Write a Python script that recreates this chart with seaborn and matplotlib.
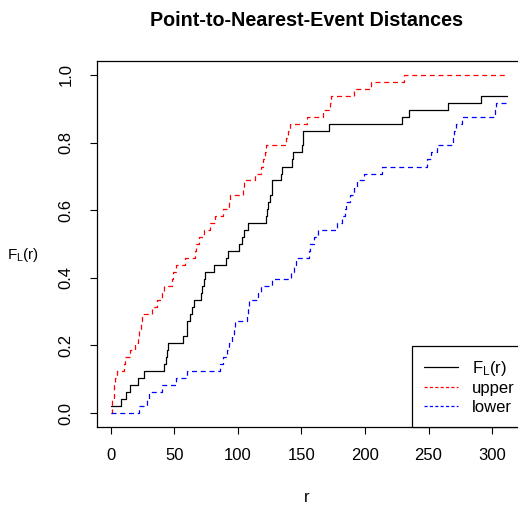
import numpy as np
import pandas as pd
import matplotlib
matplotlib.use("Agg")
import matplotlib.pyplot as plt
import seaborn as sns

# Step breakpoints (distance r) and cumulative fraction after each step
obs_r = [0, 8, 12, 15, 21, 26, 42, 43, 44, 45, 57, 60, 62, 64, 65, 71, 72, 73, 74,
         81.5, 90.5, 92, 101, 103, 105, 108, 122, 123, 124, 125, 126.5, 134, 135,
         142.5, 143, 150.5, 151, 151.5, 172, 229, 235, 265, 291, 311.6]
obs_F = [0.021, 0.042, 0.062, 0.083, 0.104, 0.125, 0.146, 0.167, 0.188, 0.208, 0.229,
         0.271, 0.292, 0.313, 0.333, 0.354, 0.375, 0.396, 0.417, 0.438, 0.458, 0.479,
         0.500, 0.521, 0.542, 0.563, 0.583, 0.604, 0.625, 0.646, 0.688, 0.708, 0.729,
         0.750, 0.771, 0.792, 0.813, 0.833, 0.854, 0.875, 0.896, 0.917, 0.938, 0.938]

upper_r = [0, 0.5, 1, 2, 2.5, 3.5, 4.5, 10.5, 11, 15, 19, 21, 22, 24, 24.5, 32, 36, 40,
           42, 48, 49, 51, 58, 66, 67, 69, 73, 78, 82, 88, 93, 94, 104, 104.5, 113, 118,
           120, 121, 122, 138, 139, 141, 154, 167, 172.5, 173, 191, 205, 231, 311.6]
upper_F = [0.0, 0.021, 0.042, 0.063, 0.083, 0.104, 0.125, 0.146, 0.167, 0.188, 0.208,
           0.229, 0.250, 0.271, 0.292, 0.313, 0.333, 0.354, 0.375, 0.396, 0.417, 0.438,
           0.458, 0.479, 0.500, 0.521, 0.542, 0.563, 0.583, 0.604, 0.625, 0.646, 0.667,
           0.688, 0.708, 0.729, 0.750, 0.771, 0.792, 0.813, 0.833, 0.854, 0.875, 0.896,
           0.917, 0.938, 0.958, 0.979, 1.0, 1.0]

lower_r = [0, 22, 28, 30, 40, 51.5, 60, 86, 88, 91, 93, 95, 96.5, 98, 107, 108, 109,
           116, 118, 126.5, 142, 144, 146, 156, 157, 160, 163, 178, 182, 184, 185, 188,
           191, 194, 199, 213, 249, 252, 257, 269, 270, 272, 276, 302, 303, 311.6]
lower_F = [0.0, 0.021, 0.042, 0.063, 0.083, 0.104, 0.125, 0.146, 0.167, 0.188, 0.208,
           0.229, 0.250, 0.271, 0.292, 0.313, 0.333, 0.354, 0.375, 0.396, 0.417, 0.438,
           0.458, 0.479, 0.500, 0.521, 0.542, 0.563, 0.583, 0.604, 0.625, 0.646, 0.667,
           0.688, 0.708, 0.729, 0.750, 0.771, 0.792, 0.813, 0.833, 0.854, 0.875, 0.896,
           0.917, 0.917]

x_ticks = [0, 50, 100, 150, 200, 250, 300]
y_ticks = [0.0, 0.2, 0.4, 0.6, 0.8, 1.0]
y_ticklabels = ["0.0", "0.2", "0.4", "0.6", "0.8", "1.0"]

sns.set_theme(style="white")
plt.rcParams["font.family"] = ["Liberation Sans", "DejaVu Sans"]
plt.rcParams["mathtext.default"] = "regular"
plt.rcParams["text.color"] = "black"

fig = plt.figure(figsize=(5.18, 5.11), dpi=100)
# plot region runs slightly past the right edge of the canvas
ax = fig.add_axes([97 / 518, 1 - 427 / 511, 425 / 518, 366 / 511])

obs = pd.DataFrame({"r": obs_r, "F": obs_F})
up = pd.DataFrame({"r": upper_r, "F": upper_F})
lo = pd.DataFrame({"r": lower_r, "F": lower_F})

sns.lineplot(data=obs, x="r", y="F", ax=ax, color="black", lw=0.9,
             drawstyle="steps-post", estimator=None, sort=False,
             label=r"$F_L(r)$")
sns.lineplot(data=up, x="r", y="F", ax=ax, color="#ff0000", lw=0.9,
             drawstyle="steps-post", estimator=None, sort=False,
             label="upper", dashes=False)
sns.lineplot(data=lo, x="r", y="F", ax=ax, color="#0000ff", lw=0.9,
             drawstyle="steps-post", estimator=None, sort=False,
             label="lower", dashes=False)
for ln in ax.get_lines()[1:3]:
    ln.set_linestyle((0, (4, 3)))

ax.set_xlim(-11, 323.6)
ax.set_ylim(-0.041, 1.041)
ax.set_xticks(x_ticks)
ax.set_yticks(y_ticks)
ax.set_yticklabels(y_ticklabels)
for lab in ax.get_yticklabels():
    lab.set_rotation(90)
    lab.set_va("center")

for side in ["left", "right", "top", "bottom"]:
    ax.spines[side].set_visible(True)
    ax.spines[side].set_color("black")
    ax.spines[side].set_linewidth(0.9)

ax.tick_params(axis="both", which="major", direction="out", length=5,
               width=0.8, color="black", labelsize=12, labelcolor="black",
               left=True, bottom=True)
ax.tick_params(axis="x", pad=10)
ax.tick_params(axis="y", pad=12)
ax.set_xlabel("")
ax.set_ylabel("")

leg = ax.legend(loc="lower right", bbox_to_anchor=(430 / 425, 0.0),
                borderaxespad=0, frameon=True, fancybox=False,
                edgecolor="black", framealpha=1, fontsize=12,
                handlelength=2.0, handletextpad=0.85, labelspacing=0.2,
                borderpad=0.75)
leg.get_frame().set_linewidth(0.9)
for h in leg.get_lines()[1:3]:
    h.set_linestyle((0, (2.5, 1.8)))
for t in leg.get_texts():
    t.set_color("black")

fig.text(307 / 518, 1 - 20 / 511, "Point-to-Nearest-Event Distances",
         ha="center", va="center", fontsize=14.2, fontweight="bold",
         color="black")
fig.text(307 / 518, 1 - 497 / 511, "r", ha="center", va="center",
         fontsize=12, color="black")
fig.text(23 / 518, 1 - 255 / 511, r"$F_L(r)$", ha="center", va="center",
         fontsize=11, color="black")

fig.savefig("out.png", dpi=100, facecolor="white")
